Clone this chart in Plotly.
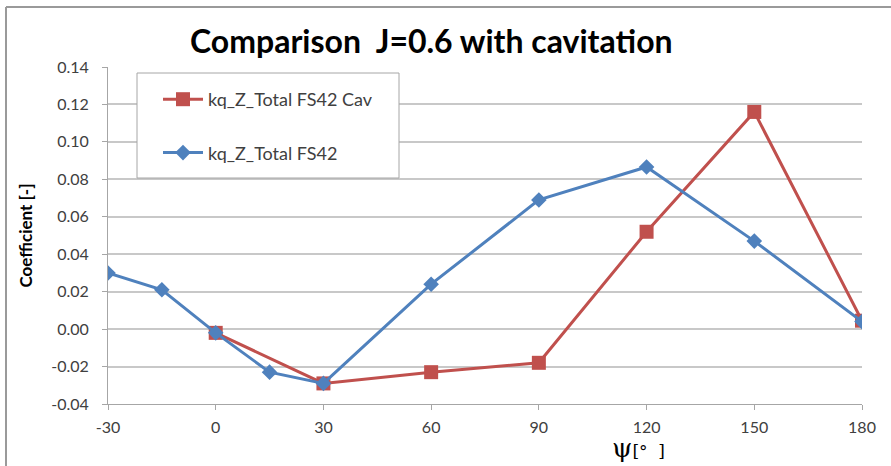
import plotly.graph_objects as go

# Angle positions (deg) and coefficient values
psi_fs42 = [-30, -15, 0, 15, 30, 60, 90, 120, 150, 180]
kq_fs42 = [0.030, 0.021, -0.002, -0.023, -0.029, 0.024, 0.069, 0.0866, 0.047, 0.004]

psi_cav = [0, 30, 60, 90, 120, 150, 180]
kq_cav = [-0.002, -0.029, -0.023, -0.018, 0.052, 0.116, 0.0045]

x_ticks = [-30, 0, 30, 60, 90, 120, 150, 180]
y_ticks = [-0.04, -0.02, 0.00, 0.02, 0.04, 0.06, 0.08, 0.10, 0.12, 0.14]

RED = "#C0504D"
BLUE = "#4F81BD"
FONT = "Lato"

W, H = 891, 466
L, R, T, B = 108, 29, 67, 62
pw, ph = W - L - R, H - T - B


def px_to_paper(px, py):
    return (px - L) / pw, (H - B - py) / ph


fig = go.Figure()
fig.add_trace(go.Scatter(
    x=psi_cav, y=kq_cav, mode="lines+markers", name="kq_Z_Total FS42 Cav",
    line=dict(color=RED, width=3),
    marker=dict(symbol="square", size=14, color=RED),
    legendgroup="cav",
))
fig.add_trace(go.Scatter(
    x=psi_fs42, y=kq_fs42, mode="lines+markers", name="kq_Z_Total FS42",
    line=dict(color=BLUE, width=3),
    marker=dict(symbol="diamond", size=12, color=BLUE),
    legendgroup="fs42",
))

# Legend frame drawn as a shape; legend itself sits inside without border
bx0, by0 = px_to_paper(137, 73)
bx1, by1 = px_to_paper(399, 178)
fig.add_shape(type="rect", xref="paper", yref="paper",
              x0=bx0, y0=by0, x1=bx1, y1=by1,
              fillcolor="white", line=dict(color="#a6a6a6", width=1),
              layer="above")

lx, ly = px_to_paper(158, 81)
fig.update_layout(
    width=W, height=H,
    margin=dict(l=L, r=R, t=T, b=B),
    paper_bgcolor="white", plot_bgcolor="white",
    font=dict(family=FONT, color="#404040"),
    showlegend=True,
    legend=dict(
        x=lx, y=ly, xanchor="left", yanchor="top",
        bgcolor="rgba(0,0,0,0)", borderwidth=0,
        font=dict(family=FONT, size=18, color="#404040"),
        traceorder="grouped", tracegroupgap=27,
        itemwidth=40,
    ),
    xaxis=dict(
        range=[-30, 180], tickvals=x_ticks, ticktext=[str(v) for v in x_ticks],
        showgrid=False, zeroline=False,
        showline=True, linecolor="#a6a6a6", linewidth=1,
        ticks="outside", ticklen=5, tickcolor="#a6a6a6",
        ticklabelstandoff=4,
        tickfont=dict(family=FONT, size=16, color="#404040"),
    ),
    yaxis=dict(
        range=[-0.04, 0.14], tickvals=y_ticks,
        ticktext=[f"{v:.2f}" for v in y_ticks],
        showgrid=True, gridcolor="#c8c8c8", gridwidth=1.5, zeroline=False,
        showline=True, linecolor="#a6a6a6", linewidth=1,
        ticks="outside", ticklen=5, tickcolor="#a6a6a6",
        ticklabelstandoff=10,
        tickfont=dict(family=FONT, size=16, color="#404040"),
        title=dict(text="<b>Coefficient [-]</b>", standoff=14,
                   font=dict(family=FONT, size=17, color="#000000")),
    ),
)

# Title
tx, ty = px_to_paper(431, 40)
fig.add_annotation(
    x=tx, y=ty, xref="paper", yref="paper", showarrow=False,
    xanchor="center", yanchor="middle",
    text="<b>Comparison  J=0.6 with cavitation</b>",
    font=dict(family=FONT, size=32, color="#000000"),
)

# x-axis label
ax, ay = px_to_paper(638, 448)
fig.add_annotation(
    x=ax, y=ay, xref="paper", yref="paper", showarrow=False,
    xanchor="center", yanchor="middle",
    text="<span style='font-size:26px'>ψ</span><span style='font-size:17px'>[°  ]</span>",
    font=dict(family="DejaVu Serif", color="#000000"),
)

# Chart frame (left and top edges)
fx0, fy0 = px_to_paper(6, 7)
fx1, fy1 = px_to_paper(900, 480)
fig.add_shape(type="line", xref="paper", yref="paper",
              x0=fx0, y0=fy0, x1=fx0, y1=fy1,
              line=dict(color="#9a9a9a", width=2))
fig.add_shape(type="line", xref="paper", yref="paper",
              x0=fx0, y0=fy0, x1=fx1, y1=fy0,
              line=dict(color="#9a9a9a", width=2))

fig.write_html("out.html")
